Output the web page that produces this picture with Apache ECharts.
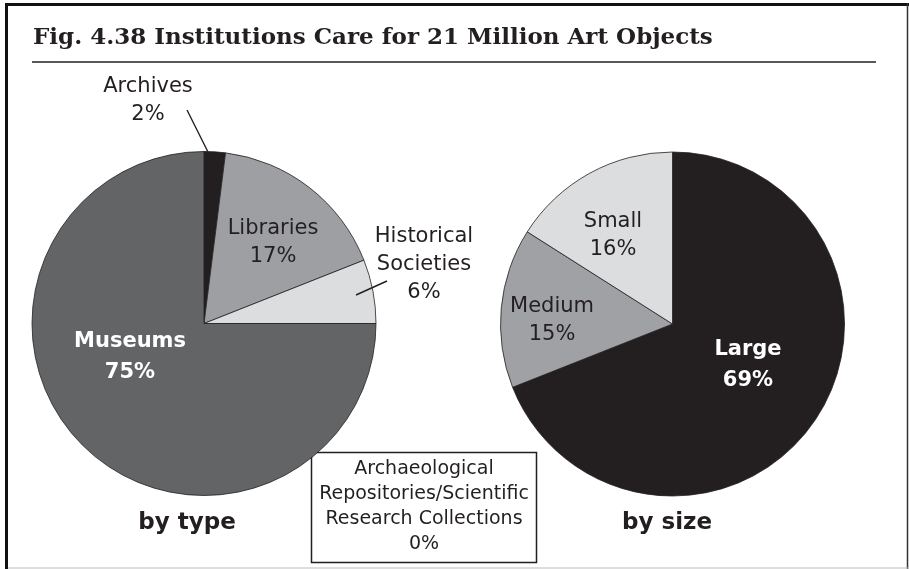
<!DOCTYPE html>
<html>
<head>
<meta charset="utf-8">
<title>Fig. 4.38</title>
<script src="https://cdn.jsdelivr.net/npm/echarts@6/dist/echarts.min.js"></script>
<style>
  html, body { margin: 0; padding: 0; background: #fff; }
  #main { width: 909px; height: 569px; }
</style>
</head>
<body>
<div id="main"></div>
<script>
  // data
  var typeNames = ['Archives', 'Libraries', 'Historical\nSocieties', 'Museums'];
  var typeShares = [2, 17, 6, 75];
  var sizeNames = ['Large', 'Medium', 'Small'];
  var sizeShares = [69, 15, 16];
  var noneName = 'Archaeological\nRepositories/Scientific\nResearch Collections';
  var noneShare = 0;

  var ink = '#231f20';
  var typeColors = [ink, '#9d9fa2', '#dcdddf', '#636466'];
  var sizeColors = [ink, '#9fa1a4', '#dcdddf'];
  var font = 'DejaVu Sans';

  // where each label sits (px)
  var typeLabelAt = [[148, 101], [273, 243], [424, 265], [130, 357]];
  var sizeLabelAt = [[748, 365], [552, 321], [613, 236]];

  var whiteBold = {color: '#fff', fontWeight: 'bold', lineHeight: 31};

  function slices(names, shares, colors, extra) {
    return names.map(function (n, i) {
      var item = {name: n, value: shares[i], itemStyle: {color: colors[i]}};
      if (extra[i]) {
        Object.keys(extra[i]).forEach(function (k) { item[k] = extra[i][k]; });
      }
      return item;
    });
  }

  var baseLabel = {
    show: true,
    position: 'inside',
    formatter: '{b}\n{c}%',
    fontFamily: font,
    fontSize: 21,
    lineHeight: 28,
    color: ink,
    align: 'center'
  };

  var leader = {stroke: ink, lineWidth: 1.4};

  var myChart = echarts.init(document.getElementById('main'), null, {renderer: 'canvas'});

  var option = {
    animation: false,
    backgroundColor: '#fff',
    title: [
      {
        text: 'Fig. 4.38 Institutions Care for 21 Million Art Objects',
        left: 33, top: 27, padding: 0,
        textStyle: {fontFamily: 'DejaVu Serif', fontWeight: 'bold', fontSize: 23, color: ink}
      },
      {
        text: 'by type', left: 187, top: 512, padding: 0, textAlign: 'center',
        textStyle: {fontFamily: font, fontWeight: 'bold', fontSize: 23, color: ink}
      },
      {
        text: 'by size', left: 667, top: 512, padding: 0, textAlign: 'center',
        textStyle: {fontFamily: font, fontWeight: 'bold', fontSize: 23, color: ink}
      }
    ],
    graphic: [
      // frame
      {type: 'rect', shape: {x: 5, y: 3, width: 904, height: 3}, style: {fill: '#111'}},
      {type: 'rect', shape: {x: 5, y: 3, width: 3, height: 566}, style: {fill: '#111'}},
      {type: 'line', shape: {x1: 907.5, y1: 3, x2: 907.5, y2: 569}, style: {stroke: '#333', lineWidth: 1.5}},
      {type: 'line', shape: {x1: 8, y1: 568, x2: 909, y2: 568}, style: {stroke: '#bbb', lineWidth: 1}},
      // rule under the heading
      {type: 'line', shape: {x1: 32, y1: 62, x2: 876, y2: 62}, style: {stroke: '#58595b', lineWidth: 2}},
      // leader lines for the small slices
      {type: 'line', z: 100, shape: {x1: 187, y1: 110, x2: 208, y2: 152}, style: leader},
      {type: 'line', z: 100, shape: {x1: 356, y1: 295, x2: 387, y2: 281}, style: leader},
      // box for the empty category
      {type: 'rect', shape: {x: 311.5, y: 452.5, width: 225, height: 110},
        style: {fill: '#fff', stroke: ink, lineWidth: 1.5}},
      {type: 'text', x: 424, y: 507,
        style: {text: noneName + '\n' + noneShare + '%', fill: ink, font: '19px "DejaVu Sans"',
          textAlign: 'center', textVerticalAlign: 'middle', lineHeight: 25}}
    ],
    series: [
      {
        name: 'by type',
        type: 'pie',
        center: [204, 323.5],
        radius: 172,
        startAngle: 90,
        clockwise: true,
        avoidLabelOverlap: false,
        silent: true,
        emphasis: {disabled: true},
        itemStyle: {borderColor: ink, borderWidth: 0.8},
        label: baseLabel,
        labelLine: {show: false},
        data: slices(typeNames, typeShares, typeColors, [
          {label: {position: 'outside'}},
          null,
          {label: {position: 'outside'}},
          {label: whiteBold}
        ]),
        labelLayout: function (params) {
          var p = typeLabelAt[params.dataIndex];
          return {x: p[0], y: p[1], align: 'center', verticalAlign: 'middle'};
        }
      },
      {
        name: 'by size',
        type: 'pie',
        center: [672.5, 324],
        radius: 172,
        startAngle: 90,
        clockwise: true,
        avoidLabelOverlap: false,
        silent: true,
        emphasis: {disabled: true},
        itemStyle: {borderColor: ink, borderWidth: 0.8},
        label: baseLabel,
        labelLine: {show: false},
        data: slices(sizeNames, sizeShares, sizeColors, [{label: whiteBold}]),
        labelLayout: function (params) {
          var p = sizeLabelAt[params.dataIndex];
          return {x: p[0], y: p[1], align: 'center', verticalAlign: 'middle'};
        }
      }
    ]
  };

  myChart.setOption(option);
</script>
</body>
</html>
